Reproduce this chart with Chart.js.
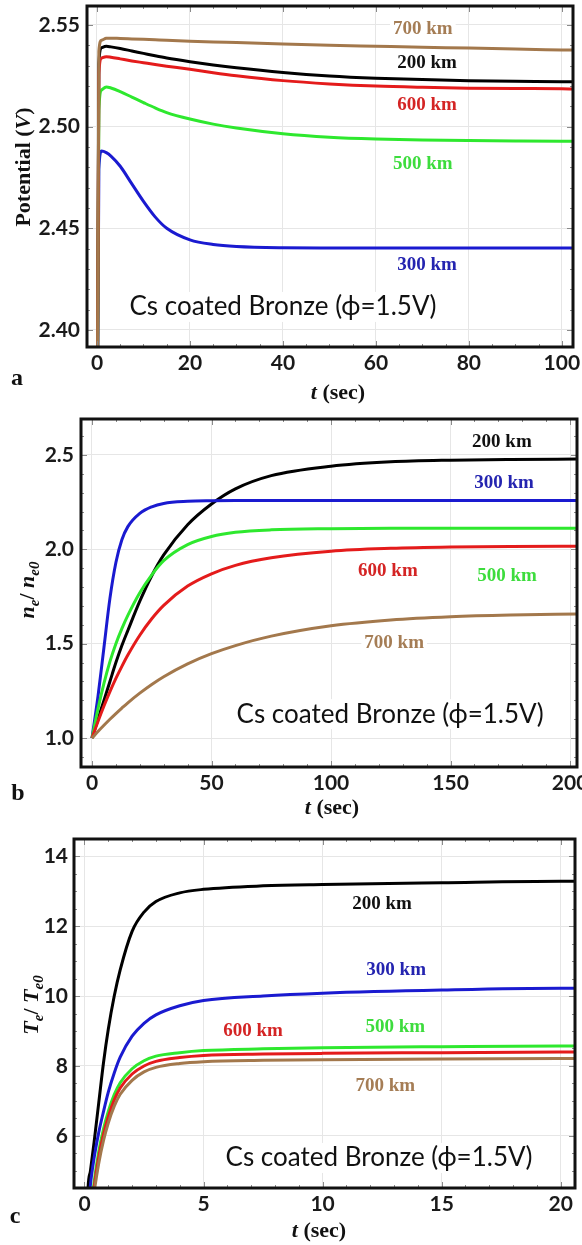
<!DOCTYPE html>
<html>
<head>
<meta charset="utf-8">
<script src="https://cdn.jsdelivr.net/npm/chart.js@4.4.1/dist/chart.umd.min.js"></script>
<style>
    html, body { margin: 0; padding: 0; background: #fff; }
    #wrap { position: relative; width: 582px; height: 1245px; overflow: hidden; }
    .panel { position: absolute; left: 0; width: 582px; }
    canvas { display: block; }
</style>
</head>
<body>
<div id="wrap">
    <div class="panel" style="top:0;height:410px"><canvas id="chartA" width="582" height="410"></canvas></div>
    <div class="panel" style="top:410px;height:415px"><canvas id="chartB" width="582" height="415"></canvas></div>
    <div class="panel" style="top:825px;height:420px"><canvas id="chartC" width="582" height="420"></canvas></div>
</div>
<script>
// ---- (a) potential vs time ----
const tA = [0, 0.4, 1, 2, 3, 5, 7.5, 10, 12.5, 15, 20, 25, 30, 40, 50, 60, 70, 80, 90, 100, 102.5];
const potA200 = [2.30, 2.531, 2.5388, 2.5395, 2.5392, 2.5384, 2.5372, 2.5360, 2.5348, 2.5337, 2.5319, 2.5303, 2.5289, 2.5266, 2.5249, 2.5238, 2.5231, 2.5226, 2.5223, 2.5221, 2.5220];
const potA300 = [2.30, 2.479, 2.4880, 2.4872, 2.4855, 2.4805, 2.4718, 2.4632, 2.4556, 2.4500, 2.4443, 2.4420, 2.4410, 2.4404, 2.4403, 2.4403, 2.4403, 2.4403, 2.4403, 2.4403, 2.4403];
const potA500 = [2.30, 2.508, 2.5180, 2.5195, 2.5190, 2.5172, 2.5145, 2.5118, 2.5092, 2.5069, 2.5037, 2.5012, 2.4993, 2.4965, 2.4948, 2.4939, 2.4934, 2.4931, 2.4929, 2.4928, 2.4928];
const potA600 = [2.30, 2.526, 2.5337, 2.5344, 2.5341, 2.5333, 2.5323, 2.5314, 2.5305, 2.5297, 2.5282, 2.5265, 2.5250, 2.5226, 2.5210, 2.5199, 2.5193, 2.5189, 2.5187, 2.5186, 2.5185];
const potA700 = [2.30, 2.537, 2.5425, 2.5434, 2.5435, 2.5433, 2.5431, 2.5429, 2.5427, 2.5425, 2.5420, 2.5416, 2.5413, 2.5406, 2.5400, 2.5395, 2.5390, 2.5386, 2.5381, 2.5377, 2.5376];
const xTicksA = [0, 20, 40, 60, 80, 100];
const yTicksA = [2.40, 2.45, 2.50, 2.55];

// ---- (b) electron density ratio ----
const tB = [0, 2.5, 5, 7.5, 10, 12.5, 15, 20, 25, 30, 40, 50, 60, 75, 100, 125, 150, 175, 203];
const neB200 = [1.0, 1.10, 1.20, 1.30, 1.40, 1.49, 1.57, 1.725, 1.86, 1.97, 2.13, 2.24, 2.32, 2.39, 2.44, 2.463, 2.472, 2.476, 2.478];
const neB300 = [1.0, 1.22, 1.48, 1.74, 1.93, 2.05, 2.12, 2.19, 2.225, 2.243, 2.254, 2.257, 2.258, 2.258, 2.258, 2.258, 2.258, 2.258, 2.258];
const neB500 = [1.0, 1.155, 1.29, 1.405, 1.50, 1.58, 1.65, 1.77, 1.865, 1.94, 2.025, 2.068, 2.09, 2.103, 2.109, 2.111, 2.111, 2.111, 2.111];
const neB600 = [1.0, 1.088, 1.17, 1.246, 1.316, 1.38, 1.44, 1.545, 1.632, 1.703, 1.805, 1.87, 1.915, 1.955, 1.99, 2.005, 2.012, 2.015, 2.016];
const neB700 = [1.0, 1.035, 1.068, 1.10, 1.13, 1.159, 1.187, 1.238, 1.284, 1.325, 1.393, 1.447, 1.49, 1.54, 1.595, 1.626, 1.643, 1.652, 1.657];
const xTicksB = [0, 50, 100, 150, 200];
const yTicksB = [1.0, 1.5, 2.0, 2.5];

// ---- (c) electron temperature ratio ----
const tC = [0, 0.15, 0.25, 0.4, 0.6, 0.8, 1.0, 1.25, 1.5, 2, 2.5, 3, 4, 5, 7.5, 10, 15, 20, 20.6];
const teC200 = [1.0, 4.5, 5.0, 5.8, 6.95, 8.1, 9.05, 10.0, 10.75, 11.85, 12.4, 12.7, 12.95, 13.05, 13.15, 13.19, 13.24, 13.28, 13.28];
const teC300 = [1.0, 3.8, 4.6, 5.35, 6.1, 6.7, 7.25, 7.8, 8.25, 8.85, 9.22, 9.46, 9.72, 9.87, 10.0, 10.08, 10.17, 10.22, 10.22];
const teC500 = [1.0, 2.6, 3.7, 4.65, 5.55, 6.2, 6.7, 7.18, 7.52, 7.92, 8.15, 8.28, 8.38, 8.44, 8.49, 8.52, 8.55, 8.57, 8.57];
const teC600 = [1.0, 2.5, 3.55, 4.5, 5.4, 6.05, 6.55, 7.03, 7.37, 7.77, 8.0, 8.13, 8.24, 8.30, 8.34, 8.36, 8.38, 8.40, 8.40];
const teC700 = [1.0, 2.4, 3.4, 4.35, 5.22, 5.87, 6.37, 6.85, 7.19, 7.59, 7.83, 7.96, 8.07, 8.12, 8.16, 8.18, 8.20, 8.21, 8.21];
const xTicksC = [0, 5, 10, 15, 20];
const yTicksC = [6, 8, 10, 12, 14];

const altitudes = ["200 km", "300 km", "500 km", "600 km", "700 km"];
const material = "Cs coated Bronze (\u03D5=1.5V)";

const lineColor = { "200 km": "#000000", "300 km": "#1a1ad0", "500 km": "#2ee82e", "600 km": "#e41b1b", "700 km": "#a3784c" };
const textColor = { "200 km": "#111111", "300 km": "#2424b0", "500 km": "#3ddc3d", "600 km": "#d42424", "700 km": "#a57d55" };

const SERIF = '"Liberation Serif", "Times New Roman", serif';
const SANS = 'Lato, "Open Sans", "DejaVu Sans", sans-serif';

function drawRich(ctx, parts, x, y, rotate) {
    ctx.save();
    ctx.translate(x, y);
    if (rotate) ctx.rotate(-Math.PI / 2);
    let total = 0;
    parts.forEach((p) => {
        ctx.font = p.font;
        p.w = ctx.measureText(p.text).width;
        total += p.w;
    });
    let cx = -total / 2;
    ctx.textAlign = "left";
    ctx.textBaseline = "alphabetic";
    ctx.fillStyle = "#111";
    parts.forEach((p) => {
        ctx.font = p.font;
        ctx.fillText(p.text, cx, 8 + (p.dy || 0));
        cx += p.w;
    });
    ctx.restore();
}

function makeDeco(p) {
    return {
        id: "deco",
        beforeDatasetsDraw(chart) {
            const { ctx } = chart;
            const xs = chart.scales.x;
            const ys = chart.scales.y;
            p.labels.forEach((lb) => {
                const px = xs.getPixelForValue(lb.t);
                const py = ys.getPixelForValue(lb.v);
                ctx.save();
                ctx.font = lb.font;
                const w = ctx.measureText(lb.text).width;
                ctx.fillStyle = "#fff";
                ctx.fillRect(px - w / 2 - 3, py - lb.h / 2, w + 6, lb.h);
                ctx.fillStyle = lb.color;
                ctx.textAlign = "center";
                ctx.textBaseline = "middle";
                ctx.fillText(lb.text, px, py);
                ctx.restore();
            });
        },
        afterDatasetsDraw(chart) {
            const { ctx, chartArea: a } = chart;
            const xs = chart.scales.x;
            const ys = chart.scales.y;
            ctx.save();
            // small frame ticks
            ctx.strokeStyle = "#8a8a8a";
            ctx.lineWidth = 1;
            const tickSet = (scale, step, major, horiz) => {
                for (let v = Math.ceil(scale.min / step) * step; v <= scale.max + 1e-9; v += step) {
                    const isMajor = Math.abs(v / major - Math.round(v / major)) < 1e-6;
                    const len = isMajor ? 6 : 3;
                    const q = Math.round(scale.getPixelForValue(v)) + 0.5;
                    ctx.beginPath();
                    if (horiz) {
                        ctx.moveTo(q, a.bottom); ctx.lineTo(q, a.bottom - len);
                        ctx.moveTo(q, a.top); ctx.lineTo(q, a.top + len);
                    } else {
                        ctx.moveTo(a.left, q); ctx.lineTo(a.left + len, q);
                        ctx.moveTo(a.right, q); ctx.lineTo(a.right - len, q);
                    }
                    ctx.stroke();
                }
            };
            tickSet(xs, p.xMinor, p.xMajor, true);
            tickSet(ys, p.yMinor, p.yMajor, false);
            // frame
            ctx.strokeStyle = "#111";
            ctx.lineWidth = 3;
            ctx.strokeRect(a.left, a.top, a.right - a.left, a.bottom - a.top);
            ctx.restore();
            // axis titles and panel letter
            drawRich(ctx, p.yTitle, p.yTitlePos[0], p.yTitlePos[1], true);
            drawRich(ctx, p.xTitle, p.xTitlePos[0], p.xTitlePos[1], false);
            ctx.save();
            ctx.font = "bold 24px " + SERIF;
            ctx.fillStyle = "#111";
            ctx.textAlign = "center";
            ctx.textBaseline = "middle";
            ctx.fillText(p.letter, p.letterPos[0], p.letterPos[1]);
            ctx.restore();
        },
    };
}

function makePanel(canvasId, p) {
    const canvas = document.getElementById(canvasId);
    const H = canvas.height;
    const datasets = p.series.map((s) => ({
        label: s.name,
        data: p.t.map((t, i) => ({ x: t, y: s.values[i] })),
        borderColor: lineColor[s.name],
        borderWidth: 3,
        pointRadius: 0,
        cubicInterpolationMode: "monotone",
        fill: false,
    }));
    const tickFont = { family: SANS, size: 21, weight: "bold" };
    new Chart(canvas, {
        type: "line",
        data: { datasets },
        options: {
            responsive: false,
            animation: false,
            events: [],
            layout: { padding: { left: 0, top: p.area.top, right: 582 - p.area.right, bottom: 0 } },
            plugins: { legend: { display: false }, tooltip: { enabled: false } },
            scales: {
                x: {
                    type: "linear",
                    min: p.xRange[0],
                    max: p.xRange[1],
                    border: { display: false },
                    grid: { color: "#e6e6e6", lineWidth: 1, drawTicks: false },
                    ticks: { font: tickFont, color: "#1a1a1a", padding: 4, maxRotation: 0, autoSkip: false, callback: (v) => String(v) },
                    afterBuildTicks: (s) => { s.ticks = p.xTicks.map((v) => ({ value: v })); },
                    afterFit: (s) => { s.height = H - p.area.bottom; s.paddingLeft = 0; s.paddingRight = 0; },
                },
                y: {
                    type: "linear",
                    min: p.yRange[0],
                    max: p.yRange[1],
                    border: { display: false },
                    grid: { color: "#e6e6e6", lineWidth: 1, drawTicks: false },
                    ticks: { font: tickFont, color: "#1a1a1a", padding: p.yPad, autoSkip: false, callback: (v) => Number(v).toFixed(p.yDigits) },
                    afterBuildTicks: (s) => { s.ticks = p.yTicks.map((v) => ({ value: v })); },
                    afterFit: (s) => { s.width = p.area.left; s.paddingTop = 0; s.paddingBottom = 0; },
                },
            },
        },
        plugins: [makeDeco(p)],
    });
}

const kmFont = "bold 19px " + SERIF;
const csFont = "26px " + SANS;
const B22 = "bold 22px " + SERIF;
const I22 = "italic bold 22px " + SERIF;
const I15 = "italic bold 15px " + SERIF;

const lbl = (name, t, v) => ({ text: name, t, v, font: kmFont, color: textColor[name], h: 20 });
const csLbl = (t, v) => ({ text: material, t, v, font: csFont, color: "#111", h: 30 });

makePanel("chartA", {
    t: tA,
    series: [
        { name: "700 km", values: potA700 },
        { name: "600 km", values: potA600 },
        { name: "500 km", values: potA500 },
        { name: "300 km", values: potA300 },
        { name: "200 km", values: potA200 },
    ],
    area: { left: 87, top: 6, right: 573, bottom: 347 },
    xRange: [-2.15, 102.4], yRange: [2.3916, 2.5593],
    xTicks: xTicksA, yTicks: yTicksA, yDigits: 2, yPad: 7,
    xMinor: 5, xMajor: 20, yMinor: 0.01, yMajor: 0.05,
    labels: [
        lbl(altitudes[4], 70.1, 2.5480), lbl(altitudes[0], 71, 2.5313), lbl(altitudes[3], 71, 2.5107),
        lbl(altitudes[2], 70.1, 2.4816), lbl(altitudes[1], 71, 2.4320), csLbl(40, 2.4113),
    ],
    yTitle: [{ text: "Potential (", font: B22 }, { text: "V", font: I22 }, { text: ")", font: B22 }],
    yTitlePos: [22, 167],
    xTitle: [{ text: "t", font: I22 }, { text: " (sec)", font: B22 }],
    xTitlePos: [338, 391],
    letter: "a", letterPos: [17, 379],
});

makePanel("chartB", {
    t: tB,
    series: [
        { name: "700 km", values: neB700 },
        { name: "600 km", values: neB600 },
        { name: "500 km", values: neB500 },
        { name: "300 km", values: neB300 },
        { name: "200 km", values: neB200 },
    ],
    area: { left: 81, top: 9, right: 577, bottom: 357 },
    xRange: [-4.6, 202.9], yRange: [0.847, 2.69],
    xTicks: xTicksB, yTicks: yTicksB, yDigits: 1, yPad: 7,
    xMinor: 10, xMajor: 50, yMinor: 0.1, yMajor: 0.5,
    labels: [
        lbl(altitudes[0], 171.5, 2.566), lbl(altitudes[1], 172.4, 2.349), lbl(altitudes[3], 123.8, 1.884),
        lbl(altitudes[2], 173.6, 1.857), lbl(altitudes[4], 126.4, 1.503), csLbl(124.7, 1.127),
    ],
    yTitle: [
        { text: "n", font: I22 }, { text: "e", font: I15, dy: 5 }, { text: "/ ", font: B22 },
        { text: "n", font: I22 }, { text: "e0", font: I15, dy: 5 },
    ],
    yTitlePos: [26, 180],
    xTitle: [{ text: "t", font: I22 }, { text: " (sec)", font: B22 }],
    xTitlePos: [332, 396],
    letter: "b", letterPos: [18, 384],
});

makePanel("chartC", {
    t: tC,
    series: [
        { name: "700 km", values: teC700 },
        { name: "600 km", values: teC600 },
        { name: "500 km", values: teC500 },
        { name: "300 km", values: teC300 },
        { name: "200 km", values: teC200 },
    ],
    area: { left: 74, top: 14, right: 575, bottom: 363 },
    xRange: [-0.44, 20.6], yRange: [4.51, 14.49],
    xTicks: xTicksC, yTicks: yTicksC, yDigits: 0, yPad: 6,
    xMinor: 1, xMajor: 5, yMinor: 0.5, yMajor: 2,
    labels: [
        lbl(altitudes[0], 12.5, 12.63), lbl(altitudes[1], 13.09, 10.74), lbl(altitudes[3], 7.08, 9.0),
        lbl(altitudes[2], 13.05, 9.11), lbl(altitudes[4], 12.63, 7.43), csLbl(12.37, 5.37),
    ],
    yTitle: [
        { text: "T", font: I22 }, { text: "e", font: I15, dy: 5 }, { text: "/ ", font: B22 },
        { text: "T", font: I22 }, { text: "e0", font: I15, dy: 5 },
    ],
    yTitlePos: [30, 180],
    xTitle: [{ text: "t", font: I22 }, { text: " (sec)", font: B22 }],
    xTitlePos: [319, 404],
    letter: "c", letterPos: [15, 392],
});
</script>
</body>
</html>
